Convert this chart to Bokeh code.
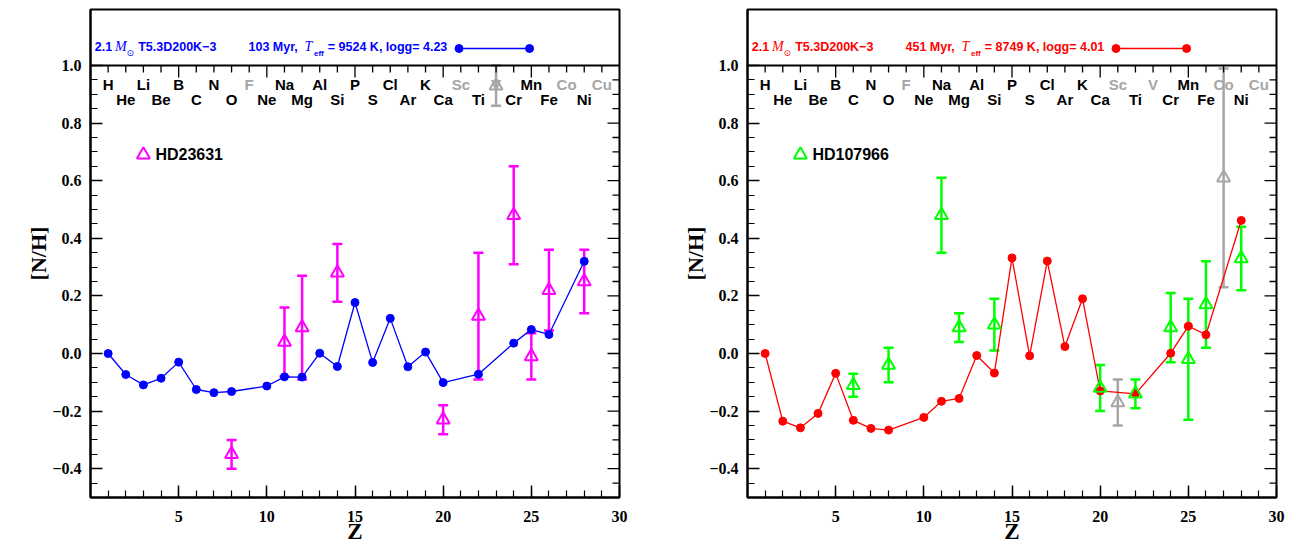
import numpy as np
from bokeh.plotting import figure
from bokeh.layouts import row
from bokeh.models import (Range1d, FixedTicker, Whisker, TeeHead, ColumnDataSource,
                          Label, Span)
from bokeh.embed import file_html
from bokeh.resources import INLINE
from bokeh.core.properties import value

# ---------------- data ----------------
elements = ["H", "He", "Li", "Be", "B", "C", "N", "O", "F", "Ne", "Na", "Mg", "Al", "Si",
            "P", "S", "Cl", "Ar", "K", "Ca", "Sc", "Ti", "V", "Cr", "Mn", "Fe", "Co", "Ni", "Cu"]
element_z = list(range(1, 30))
grey_elements = ["F", "Sc", "V", "Co", "Cu"]

model_z = [1, 2, 3, 4, 5, 6, 7, 8, 10, 11, 12, 13, 14, 15, 16, 17, 18, 19, 20, 22, 24, 25, 26, 28]

# left panel: model 103 Myr (blue) and HD23631 (magenta)
model1_nh = [0.000, -0.073, -0.109, -0.086, -0.030, -0.125, -0.136, -0.132, -0.113, -0.081,
             -0.082, 0.001, -0.045, 0.177, -0.031, 0.122, -0.046, 0.005, -0.101, -0.072,
             0.036, 0.083, 0.066, 0.320]
obs1_z = [8, 11, 12, 14, 20, 22, 24, 25, 26, 28]
obs1_nh = [-0.35, 0.04, 0.09, 0.28, -0.23, 0.13, 0.48, -0.01, 0.22, 0.25]
obs1_err = [0.05, 0.12, 0.18, 0.10, 0.05, 0.22, 0.17, 0.08, 0.14, 0.11]
grey1_z = [23]
grey1_nh = [0.93]
grey1_err = [0.07]

# right panel: model 451 Myr (red) and HD107966 (green)
model2_nh = [0.000, -0.235, -0.258, -0.208, -0.069, -0.232, -0.260, -0.266, -0.222, -0.166,
             -0.156, -0.007, -0.068, 0.332, -0.008, 0.321, 0.024, 0.190, -0.130, -0.140,
             0.001, 0.095, 0.065, 0.462]
obs2_z = [6, 8, 11, 12, 14, 20, 22, 24, 25, 26, 28]
obs2_nh = [-0.11, -0.04, 0.48, 0.09, 0.10, -0.12, -0.14, 0.09, -0.02, 0.17, 0.33]
obs2_err = [0.04, 0.06, 0.13, 0.05, 0.09, 0.08, 0.05, 0.12, 0.21, 0.15, 0.11]
grey2_z = [21, 27]
grey2_nh = [-0.17, 0.61]
grey2_err = [0.08, 0.38]

x_ticks = [5, 10, 15, 20, 25, 30]
x_minor = list(range(0, 31))
y_ticks = [-0.4, -0.2, 0.0, 0.2, 0.4, 0.6, 0.8, 1.0]
y_tick_labels = ["\u22120.4", "\u22120.2", "0.0", "0.2", "0.4", "0.6", "0.8", "1.0"]
y_minor = [round(v, 2) for v in np.arange(-0.5, 1.0001, 0.05)]

legend_line_z = [20.9, 24.9]
legend_star_pos = (3.0, 0.69)

GREY = "#a6a6a6"
SANS = "Liberation Sans"
SERIF = "Liberation Serif"

FW, FH_MAIN, FH_HEAD = 529, 432, 56
Y0, Y1 = -0.5, 1.0
YTOP = Y1 + FH_HEAD * (Y1 - Y0) / FH_MAIN
PX_Y = FH_MAIN / (Y1 - Y0)      # pixels per data unit (y)
PX_X = FW / 30.0                # pixels per data unit (x)


def style_axis(ax):
    ax.axis_line_width = 2
    ax.axis_line_color = "black"
    ax.major_tick_in = 12
    ax.major_tick_out = 0
    ax.minor_tick_in = 7
    ax.minor_tick_out = 0
    ax.major_tick_line_width = 1.5
    ax.minor_tick_line_width = 1.2
    ax.major_tick_line_color = "black"
    ax.minor_tick_line_color = "black"
    ax.major_label_text_font = SERIF
    ax.major_label_text_font_style = "bold"
    ax.major_label_text_font_size = "16px"
    ax.major_label_text_color = "black"
    ax.axis_label_text_font = SERIF
    ax.axis_label_text_font_style = "bold"
    ax.axis_label_text_color = "black"


def make_panel(model_nh, mcolor, obs_z, obs_nh, obs_err, ocolor, gz, gnh, gerr,
               star, age, teff, logg, lb, rb):
    p = figure(frame_width=FW, frame_height=FH_MAIN + FH_HEAD, min_border_left=lb,
               min_border_right=rb, min_border_top=9, min_border_bottom=49,
               x_range=Range1d(0, 30), y_range=Range1d(Y0, YTOP),
               toolbar_location=None, output_backend="svg")
    p.grid.visible = False
    p.outline_line_color = "black"
    p.outline_line_width = 2

    xa = p.xaxis[0]
    xa.ticker = FixedTicker(ticks=x_ticks, minor_ticks=x_minor)
    style_axis(xa)
    xa.major_label_standoff = 13
    xa.axis_label = "Z"
    xa.axis_label_text_font_size = "23px"
    xa.axis_label_standoff = -6

    ya = p.yaxis[0]
    ya.ticker = FixedTicker(ticks=y_ticks, minor_ticks=y_minor)
    style_axis(ya)
    ya.major_label_standoff = 9
    ya.major_label_overrides = {t: l for t, l in zip(y_ticks, y_tick_labels)}
    ya.axis_label = "[N/H]"
    ya.axis_label_text_font_size = "22px"
    ya.axis_label_standoff = -2

    # divider between header box and plot, with inward ticks on the plot side
    p.add_layout(Span(location=Y1, dimension="width", line_color="black", line_width=2))
    maj_len, min_len = 12 / PX_Y, 7 / PX_Y
    tx = [t for t in x_minor if 0 < t < 30]
    ty_end = [Y1 - (maj_len if t in x_ticks else min_len) for t in tx]
    p.segment(x0=tx, y0=[Y1] * len(tx), x1=tx, y1=ty_end, line_color="black",
              line_width=1.3)
    # right side ticks
    ry = [t for t in y_minor if Y0 < t < Y1]
    rx_end = [30 - ((12 if any(abs(t - m) < 1e-6 for m in y_ticks) else 7) / PX_X)
              for t in ry]
    p.segment(x0=[30] * len(ry), y0=ry, x1=rx_end, y1=ry, line_color="black",
              line_width=1.3)

    # header texts
    ty = Y1 + 19 / PX_Y
    tsub = Y1 + 12.3 / PX_Y
    pieces = [
        ("2.1", 4.3, ty, SANS, "bold", "12.5px"),
        ("M", 24.5, ty, SERIF, "italic", "14px"),
        ("\u2299", 36.0, tsub, "DejaVu Sans", "normal", "9px"),
        ("T5.3D200K\u22123", 47.7, ty, SANS, "bold", "12.5px"),
        (age + ",", 158.0, ty, SANS, "bold", "12.5px"),
        ("T", 214.0, ty, SERIF, "italic", "14px"),
        ("eff", 223.5, tsub, SANS, "bold", "8px"),
        ("= " + teff + " K, logg= " + logg, 237.3, ty, SANS, "bold", "12.5px"),
    ]
    for txt, off, yy, font, style, size in pieces:
        p.add_layout(Label(x=0, y=yy, x_offset=off, text=txt, text_font=font,
                           text_font_style=style, text_font_size=size, text_color=mcolor,
                           text_baseline="middle", text_align="left"))
    ly = Y1 + 17 / PX_Y
    p.line(legend_line_z, [ly, ly], line_color=mcolor, line_width=1.5)
    p.scatter(legend_line_z, [ly, ly], marker="circle", size=8,
              fill_color=mcolor, line_color=mcolor)

    # element labels
    ey = [0.933 if z % 2 == 1 else 0.882 for z in element_z]
    ec = [GREY if e in grey_elements else "black" for e in elements]
    p.text(x=element_z, y=ey, text=elements, text_color=ec, text_align="center",
           text_baseline="middle", text_font=value(SANS), text_font_style="bold",
           text_font_size="15px")

    # model
    p.line(model_z, model_nh, line_color=mcolor, line_width=1.3)
    p.scatter(model_z, model_nh, marker="circle", size=8, fill_color=mcolor,
              line_color=mcolor)

    # observations
    def obs(zs, nh, err, color):
        src = ColumnDataSource(dict(z=zs, nh=nh,
                                    upper=[a + b for a, b in zip(nh, err)],
                                    lower=[a - b for a, b in zip(nh, err)]))
        p.add_layout(Whisker(source=src, base="z", upper="upper", lower="lower",
                             line_color=color, line_width=2.5,
                             upper_head=TeeHead(size=10, line_color=color, line_width=2.5),
                             lower_head=TeeHead(size=10, line_color=color, line_width=2.5)))
        p.scatter("z", "nh", source=src, marker="triangle", size=13, fill_color=None,
                  line_color=color, line_width=2)

    obs(gz, gnh, gerr, GREY)
    obs(obs_z, obs_nh, obs_err, ocolor)

    # star legend
    p.scatter([legend_star_pos[0]], [legend_star_pos[1]], marker="triangle", size=13,
              fill_color=None, line_color=ocolor, line_width=2)
    p.add_layout(Label(x=legend_star_pos[0], y=legend_star_pos[1], x_offset=12, text=star,
                       text_font=SANS, text_font_style="bold", text_font_size="16px",
                       text_color="black", text_baseline="middle"))
    return p


left = make_panel(model1_nh, "#0000ff", obs1_z, obs1_nh, obs1_err, "#ff00ff",
                  grey1_z, grey1_nh, grey1_err, "HD23631", "103 Myr", "9524", "4.23", 90, 60)
right = make_panel(model2_nh, "#ff0000", obs2_z, obs2_nh, obs2_err, "#00ff00",
                   grey2_z, grey2_nh, grey2_err, "HD107966", "451 Myr", "8749", "4.01", 68, 12)

layout = row(left, right)
open("out.html", "w").write(file_html(layout, INLINE))
